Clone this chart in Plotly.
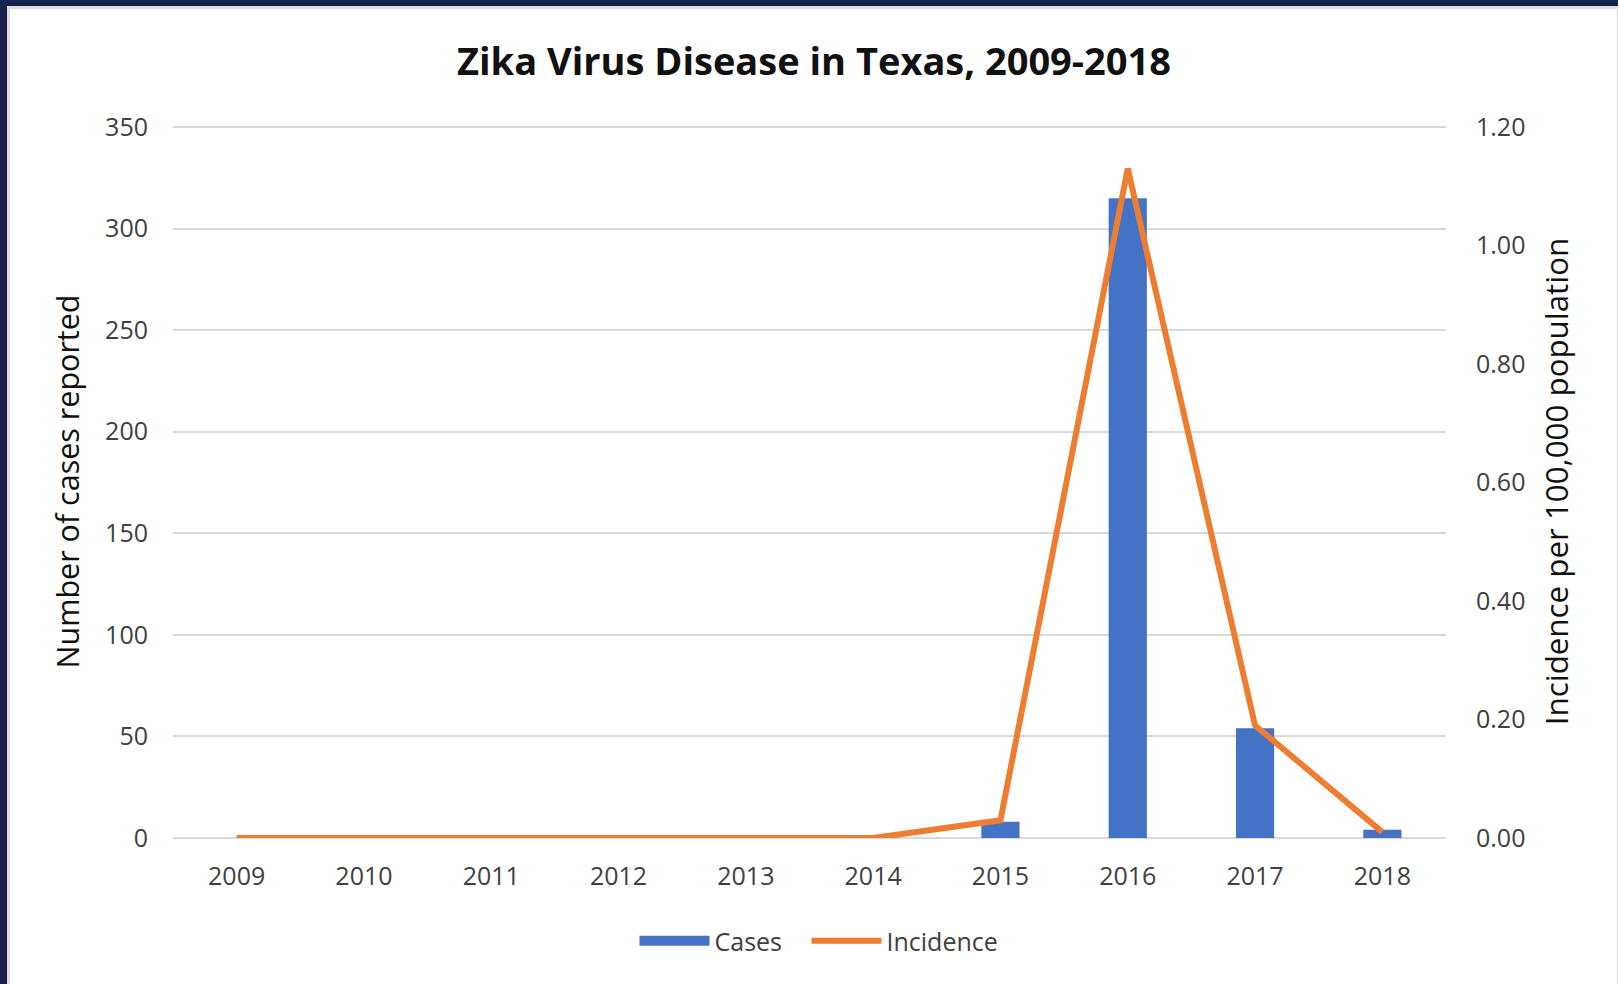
import plotly.graph_objects as go

years = ["2009", "2010", "2011", "2012", "2013", "2014", "2015", "2016", "2017", "2018"]
cases = [0, 0, 0, 0, 0, 0, 8, 315, 54, 4]
incidence = [0.00, 0.00, 0.00, 0.00, 0.00, 0.00, 0.03, 1.13, 0.19, 0.01]

W, H = 1618, 984
ML, MR, MT, MB = 173, 172, 125, 146
PW, PH = W - ML - MR, H - MT - MB
YMAX_L, YMAX_R = 350, 1.2
PAD = 351 / 350

def px_x(p):
    return (p - ML) / PW

def px_y(p):
    return (H - MB - p) / PH

FONT = "Open Sans"
TXT = "#404040"
GRID = "#d9d9d9"
NBSP = "\u00a0"

fig = go.Figure()
fig.add_trace(go.Bar(x=years, y=cases, name="Cases", marker_color="#4472C4",
                     marker_line_width=0, width=0.30, yaxis="y", showlegend=False))
fig.add_trace(go.Scatter(x=[None], y=[None], name="Cases" + NBSP * 3, mode="lines",
                         line=dict(color="#4472C4", width=17), yaxis="y"))
fig.add_trace(go.Scatter(x=years, y=incidence, name="Incidence", mode="lines",
                         line=dict(color="#ED7D31", width=6), yaxis="y2"))

fig.update_layout(
    width=W, height=H,
    margin=dict(l=ML, r=MR, t=MT, b=MB, autoexpand=False),
    paper_bgcolor="#17224f",
    plot_bgcolor="rgba(0,0,0,0)",
    font=dict(family=FONT, color=TXT, size=25),
    title=dict(text="<b>Zika Virus Disease in Texas, 2009-2018</b>", x=px_x(814), xref="paper",
               xanchor="center", y=1 - 62 / H, yanchor="middle",
               font=dict(family=FONT, size=38, color="#111111")),
    xaxis=dict(type="category", showgrid=False, zeroline=False, showline=False,
               ticks="", ticklabelstandoff=21, tickfont=dict(size=25, color=TXT)),
    yaxis=dict(range=[0, YMAX_L * PAD], tickvals=[0, 50, 100, 150, 200, 250, 300, 350],
               showgrid=True, gridcolor=GRID, gridwidth=2,
               zeroline=True, zerolinecolor=GRID, zerolinewidth=2,
               showline=False, ticks="", ticklabelstandoff=24,
               tickfont=dict(size=25, color=TXT),
               title=dict(text="Number of cases reported", standoff=16,
                          font=dict(size=30.5, color="#111111"))),
    yaxis2=dict(range=[0, YMAX_R * PAD], tickvals=[0, 0.2, 0.4, 0.6, 0.8, 1.0, 1.2],
                tickformat=".2f", overlaying="y", side="right",
                showgrid=False, zeroline=False, showline=False, ticks="", ticklabelstandoff=29,
                tickfont=dict(size=25, color=TXT),
                title=dict(text="Incidence per 100,000 population", standoff=21,
                           font=dict(size=31.3, color="#111111"))),
    showlegend=True,
    legend=dict(orientation="h", x=px_x(819), xanchor="center", y=px_y(941), yanchor="middle",
                font=dict(size=25, color=TXT), itemwidth=70, bgcolor="rgba(0,0,0,0)",
                traceorder="normal"),
    bargap=0.7,
    shapes=[
        dict(type="rect", xref="paper", yref="paper", layer="below",
             x0=px_x(8.5), x1=px_x(W + 0.5), y0=px_y(H + 20), y1=px_y(7.5),
             fillcolor="white", line=dict(color="#dcdcdc", width=3)),
    ],
)

fig.write_html("out.html", config={"displayModeBar": False},
               post_script="document.body.style.margin='0';")
